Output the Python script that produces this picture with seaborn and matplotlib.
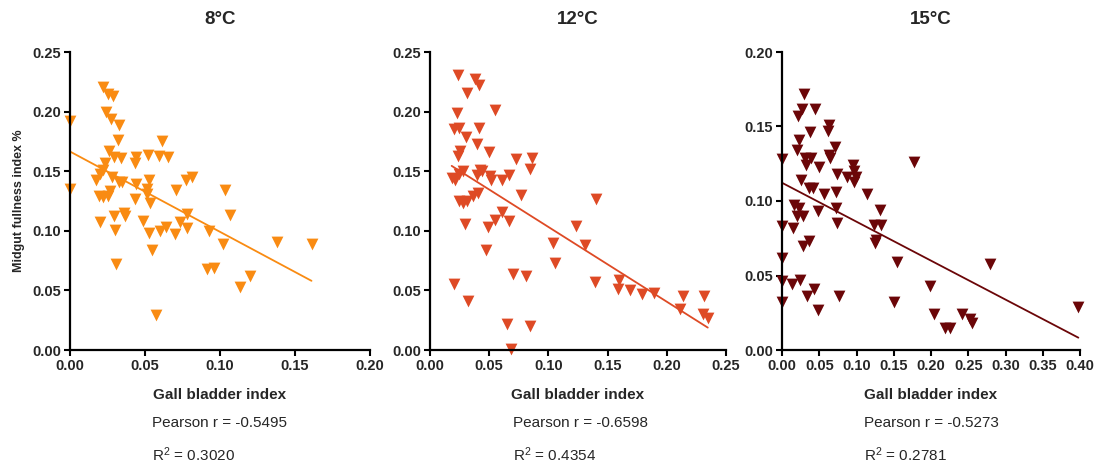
import matplotlib
matplotlib.use("Agg")
import matplotlib.pyplot as plt
import seaborn as sns
import pandas as pd

sns.set_style("ticks")
plt.rcParams['font.family'] = ['Liberation Sans', 'DejaVu Sans']
plt.rcParams['mathtext.fontset'] = 'custom'
plt.rcParams['mathtext.rm'] = 'Liberation Sans'
plt.rcParams['mathtext.it'] = 'Liberation Sans:italic'
plt.rcParams['mathtext.bf'] = 'Liberation Sans:bold'

# ---- data: panel 8°C ----
gbi_8 = [0.0, 0.0, 0.0223, 0.0253, 0.0286, 0.0239, 0.0273, 0.0324, 0.0317, 0.0615,
         0.0257, 0.029, 0.0342, 0.044, 0.0436, 0.052, 0.059, 0.0655, 0.0235, 0.0219,
         0.0201, 0.0172, 0.028, 0.0324, 0.0346, 0.044, 0.0525, 0.0514, 0.0514, 0.0436,
         0.0536, 0.0704, 0.0771, 0.0816, 0.1035, 0.019, 0.0223, 0.0253, 0.0268, 0.029,
         0.0358, 0.0369, 0.0197, 0.030, 0.0485, 0.0525, 0.060, 0.0637, 0.070, 0.0733,
         0.0782, 0.0782, 0.0927, 0.1023, 0.1066, 0.1379, 0.161, 0.0547, 0.0306, 0.0912,
         0.096, 0.1133, 0.12, 0.0574]
mfi_8 = [0.192, 0.135, 0.221, 0.215, 0.213, 0.200, 0.194, 0.189, 0.176, 0.175,
         0.167, 0.162, 0.161, 0.162, 0.157, 0.164, 0.163, 0.162, 0.157, 0.151,
         0.148, 0.143, 0.145, 0.141, 0.141, 0.139, 0.143, 0.135, 0.131, 0.127,
         0.123, 0.134, 0.143, 0.145, 0.134, 0.129, 0.128, 0.129, 0.133, 0.112,
         0.115, 0.112, 0.107, 0.101, 0.108, 0.098, 0.100, 0.103, 0.097, 0.107,
         0.102, 0.114, 0.100, 0.089, 0.113, 0.091, 0.089, 0.084, 0.072, 0.068,
         0.069, 0.053, 0.062, 0.029]

# ---- data: panel 12°C ----
gbi_12 = [0.0239, 0.0379, 0.0416, 0.0315, 0.023, 0.0548, 0.0205, 0.0244, 0.0413, 0.0303,
          0.0393, 0.0253, 0.0239, 0.0497, 0.073, 0.0865, 0.0848, 0.0183, 0.0211, 0.0247,
          0.0275, 0.0393, 0.0421, 0.0435, 0.0506, 0.0511, 0.0612, 0.0669, 0.0402, 0.036,
          0.0247, 0.0275, 0.0309, 0.0772, 0.1404, 0.0612, 0.0548, 0.0669, 0.0492, 0.0295,
          0.0472, 0.1236, 0.1039, 0.1306, 0.1059, 0.0697, 0.0809, 0.0202, 0.1396, 0.1596,
          0.1587, 0.1691, 0.1792, 0.1888, 0.214, 0.231, 0.211, 0.2303, 0.2346, 0.0323,
          0.0654, 0.0848, 0.068]
mfi_12 = [0.231, 0.227, 0.222, 0.216, 0.199, 0.201, 0.185, 0.186, 0.186, 0.179,
          0.173, 0.167, 0.163, 0.166, 0.160, 0.161, 0.152, 0.144, 0.143, 0.148,
          0.150, 0.147, 0.151, 0.150, 0.146, 0.143, 0.143, 0.147, 0.132, 0.129,
          0.125, 0.123, 0.125, 0.130, 0.127, 0.116, 0.109, 0.108, 0.103, 0.106,
          0.084, 0.104, 0.090, 0.088, 0.073, 0.064, 0.062, 0.055, 0.057, 0.059,
          0.051, 0.050, 0.047, 0.048, 0.045, 0.045, 0.034, 0.030, 0.027, 0.041,
          0.022, 0.020, 0.001]

# ---- data: panel 15°C ----
gbi_15 = [0.0291, 0.0448, 0.0269, 0.0211, 0.0233, 0.0377, 0.0628, 0.0614, 0.0197, 0.0,
          0.0314, 0.039, 0.0637, 0.0646, 0.0717, 0.0323, 0.0493, 0.1771, 0.0951, 0.096,
          0.0735, 0.087, 0.0996, 0.0973, 0.0256, 0.0359, 0.0422, 0.057, 0.0726, 0.1139,
          0.0166, 0.0233, 0.0197, 0.0278, 0.048, 0.0726, 0.1318, 0.0, 0.0152, 0.0735,
          0.1229, 0.1332, 0.1256, 0.1242, 0.0368, 0.0278, 0.0, 0.1543, 0.2789, 0.0,
          0.0135, 0.0242, 0.0435, 0.0332, 0.0771, 0.0, 0.1502, 0.1991, 0.048, 0.2036,
          0.2417, 0.253, 0.2556, 0.2184, 0.226, 0.3978]
mfi_15 = [0.172, 0.162, 0.162, 0.157, 0.141, 0.146, 0.151, 0.147, 0.134, 0.128,
          0.129, 0.129, 0.131, 0.129, 0.136, 0.124, 0.123, 0.126, 0.124, 0.120,
          0.118, 0.116, 0.116, 0.113, 0.114, 0.109, 0.109, 0.105, 0.106, 0.105,
          0.097, 0.095, 0.090, 0.090, 0.093, 0.095, 0.094, 0.083, 0.082, 0.085,
          0.084, 0.084, 0.074, 0.072, 0.073, 0.070, 0.062, 0.059, 0.058, 0.046,
          0.044, 0.047, 0.041, 0.036, 0.036, 0.032, 0.032, 0.043, 0.027, 0.024,
          0.024, 0.021, 0.018, 0.015, 0.015, 0.029]

titles = ["8°C", "12°C", "15°C"]
colors = ["#F98B12", "#DE4A25", "#6B0608"]
pearson_r = ["-0.5495", "-0.6598", "-0.5273"]
r_squared = ["0.3020", "0.4354", "0.2781"]
x_ticks = [[0.00, 0.05, 0.10, 0.15, 0.20],
           [0.00, 0.05, 0.10, 0.15, 0.20, 0.25],
           [0.00, 0.05, 0.10, 0.15, 0.20, 0.25, 0.30, 0.35, 0.40]]
y_ticks = [[0.00, 0.05, 0.10, 0.15, 0.20, 0.25],
           [0.00, 0.05, 0.10, 0.15, 0.20, 0.25],
           [0.00, 0.05, 0.10, 0.15, 0.20]]
x_labels = "Gall bladder index"
y_label = "Midgut fullness index %"

xs = [gbi_8, gbi_12, gbi_15]
ys = [mfi_8, mfi_12, mfi_15]

fig = plt.figure(figsize=(11.01, 4.65), dpi=100)
W, H = 1101, 465
ax_px = [(70, 300), (430, 296), (782, 298)]
text_x = [152, 513, 864]

for i in range(3):
    left, width = ax_px[i]
    ax = fig.add_axes([left / W, 1 - 350 / H, width / W, 298 / H])
    df = pd.DataFrame({"x": xs[i], "y": ys[i]})
    sns.regplot(data=df, x="x", y="y", ax=ax, ci=None, truncate=True,
                color=colors[i], marker="v",
                scatter_kws=dict(s=72, linewidths=0, alpha=1),
                line_kws=dict(lw=1.3))
    ax.set_xlim(x_ticks[i][0], x_ticks[i][-1])
    ax.set_ylim(y_ticks[i][0], y_ticks[i][-1])
    ax.set_xticks(x_ticks[i])
    ax.set_yticks(y_ticks[i])
    ax.set_xticklabels([f"{v:.2f}" for v in x_ticks[i]])
    ax.set_yticklabels([f"{v:.2f}" for v in y_ticks[i]])
    for lab in ax.get_xticklabels() + ax.get_yticklabels():
        lab.set_fontweight("bold")
        lab.set_fontsize(10.5)
    ax.tick_params(axis="both", length=4.5, width=1.5, color="black", pad=2)
    for sp in ["left", "bottom"]:
        ax.spines[sp].set_linewidth(1.6)
        ax.spines[sp].set_color("black")
    sns.despine(ax=ax)
    for coll in ax.collections:
        coll.set_clip_on(False)
    ax.set_title(titles[i], fontsize=13.5, fontweight="bold", pad=20)
    ax.set_xlabel(x_labels, fontsize=11, fontweight="bold", labelpad=11)
    if i == 0:
        ax.set_ylabel(y_label, fontsize=9, fontweight="bold", labelpad=5)
    else:
        ax.set_ylabel("")
    fig.text(text_x[i] / W, 1 - 423 / H, f"Pearson r = {pearson_r[i]}",
             fontsize=11, ha="left", va="center")
    fig.text(text_x[i] / W, 1 - 455 / H, f"R$^2$ = {r_squared[i]}",
             fontsize=11, ha="left", va="center")

fig.savefig("out.png", dpi=100)
